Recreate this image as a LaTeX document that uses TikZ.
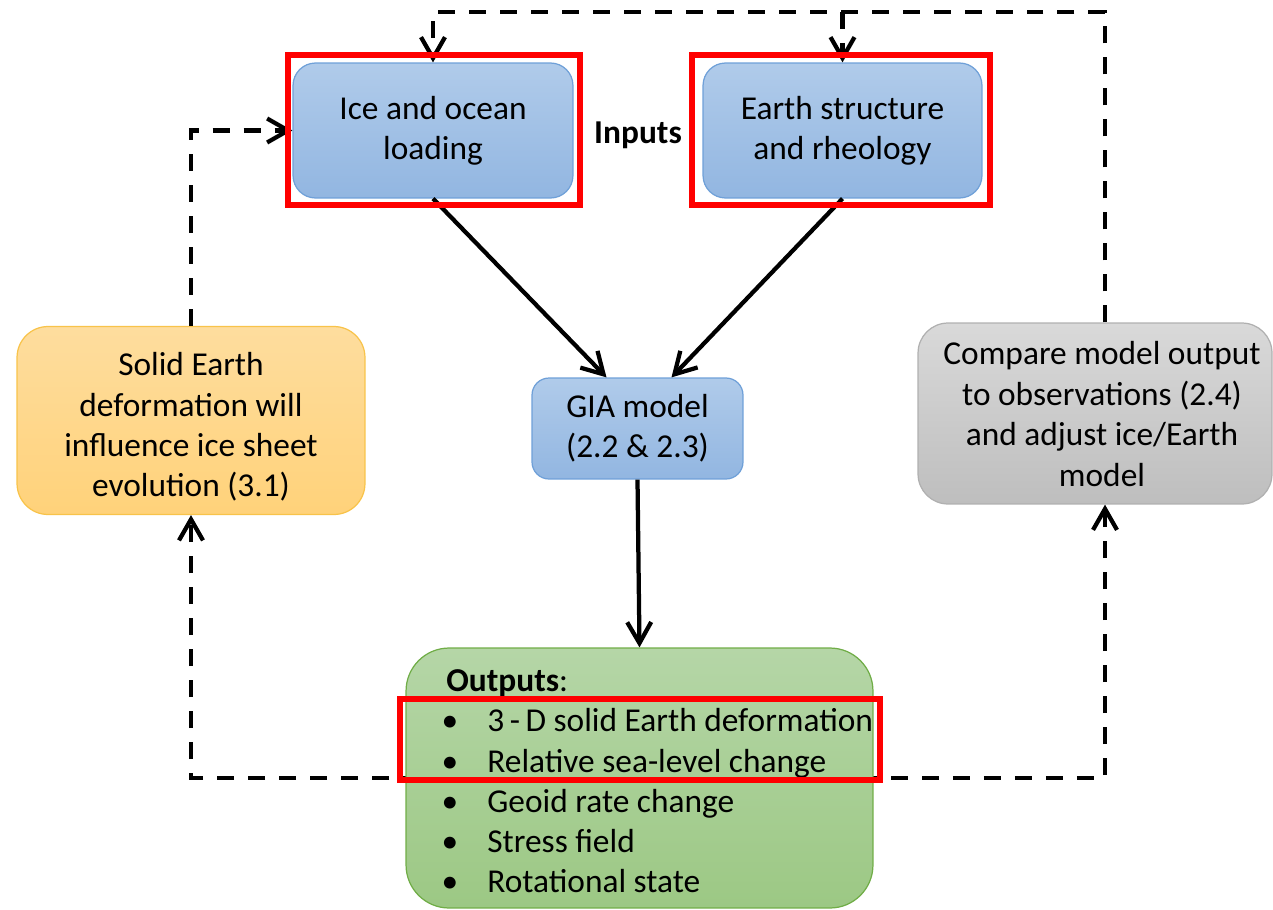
\documentclass[tikz,border=0pt]{standalone}
\usepackage{fontspec}
\setmainfont{Carlito}
\usetikzlibrary{arrows.meta,calc}
\definecolor{bluetop}{HTML}{B0CBEA}
\definecolor{bluebot}{HTML}{92B6E1}
\definecolor{blueline}{HTML}{6FA0D8}
\definecolor{orgtop}{HTML}{FEDD9E}
\definecolor{orgbot}{HTML}{FFD27A}
\definecolor{orgline}{HTML}{F8C34A}
\definecolor{graytop}{HTML}{D9D9D9}
\definecolor{graybot}{HTML}{BEBEBE}
\definecolor{grayline}{HTML}{B0B0B0}
\definecolor{grntop}{HTML}{B5D6A7}
\definecolor{grnbot}{HTML}{9CC884}
\definecolor{grnline}{HTML}{70AD47}
\begin{document}
\begin{tikzpicture}[x=0.02cm,y=-0.02cm,
  txt/.style={font=\fontsize{19}{23}\selectfont, align=center, text=black},
  boxbase/.style={txt, draw, line width=0.7pt, inner sep=0pt},
  bluebox/.style={boxbase, draw=blueline, top color=bluetop, bottom color=bluebot},
  orgbox/.style={boxbase, draw=orgline, top color=orgtop, bottom color=orgbot},
  graybox/.style={boxbase, draw=grayline, top color=graytop, bottom color=graybot},
  grnbox/.style={boxbase, draw=grnline, top color=grntop, bottom color=grnbot},
  tip/.style={-{Straight Barb[length=0.42cm,width=0.48cm]}},
  conn/.style={line width=0.085cm, black, line join=miter},
  dsh/.style={conn, dash pattern=on 0.34cm off 0.28cm},
  redframe/.style={draw=red, line width=0.12cm},
  outtxt/.style={font=\fontsize{19}{23}\selectfont, inner sep=0pt, anchor=base west},
  bul/.style={font=\fontsize{19}{23}\selectfont, inner sep=0pt, anchor=base}
]
\useasboundingbox (0,0) rectangle (1273,909);
\begin{scope}
\clip (0,0) rectangle (1273,909);

% coordinates for the loops
\coordinate (tr) at (1105,12);
\coordinate (tl) at (433,12);
\coordinate (bl) at (190,778);
\coordinate (br) at (1105,778);

% boxes
\node[bluebox, minimum width=5.6cm, minimum height=2.7cm, rounded corners=0.45cm] (ice) at (433,130.5) {Ice and ocean\\loading};
\node[bluebox, minimum width=5.58cm, minimum height=2.7cm, rounded corners=0.45cm] (earth) at (842.5,130.5) {Earth structure\\and rheology};
\node[bluebox, minimum width=4.22cm, minimum height=2.02cm, rounded corners=0.34cm] (gia) at (637.5,428.5) {GIA model\\(2.2 \& 2.3)};
\node[orgbox, minimum width=6.96cm, minimum height=3.76cm, rounded corners=0.62cm] (orange) at (191,420.5) {};
\node[txt] (orangetxt) at (191,427) {Solid Earth\\deformation will\\influence ice sheet\\evolution (3.1)};
\node[graybox, minimum width=7.08cm, minimum height=3.62cm, rounded corners=0.6cm] (gray) at (1095,413.5) {};
\node[txt] (graytxt) at (1102,414) {Compare model output\\to observations (2.4)\\and adjust ice/Earth\\model};

% bottom feedback lines (behind the outputs box)
\draw[dsh,tip] (bl -| 420,0) -| (orange.south);
\draw[dsh,tip] (br -| 860,0) -| ($(gray.south)+(10,0)$);

\node[grnbox, minimum width=9.34cm, minimum height=5.2cm, rounded corners=0.86cm] (out) at (639.5,778) {};

\node[txt, font=\fontsize{19}{23}\selectfont\bfseries] (inputs) at (638,135) {Inputs};

% outputs text
\node[outtxt] (o0) at (446,691) {\textbf{Outputs}:};
\node[bul] (b1) at (450,731) {•};
\node[bul] (b2) at (450,772) {•};
\node[bul] (b3) at (450,812) {•};
\node[bul] (b4) at (450,852) {•};
\node[bul] (b5) at (450,892) {•};
\node[outtxt] (o1) at (487,731) {3\,-\,D solid Earth deformation};
\node[outtxt] (o2) at (487,772) {Relative sea-level change};
\node[outtxt] (o3) at (487,812) {Geoid rate change};
\node[outtxt] (o4) at (487,852) {Stress field};
\node[outtxt] (o5) at (487,892) {Rotational state};

% solid arrows
\draw[conn,tip] (ice.south) -- ($(gia.north)+(-31,0)$);
\draw[conn,tip] (earth.south) -- ($(gia.north)+(34,0)$);
\draw[conn,tip] (gia.south) -- (out.north);

% dashed loops
\draw[dsh,tip] ($(gray.north)+(10,0)$) -- (tr) -- (tl) -- (ice.north);
\draw[dsh,tip] (earth.north |- tr) -- (earth.north);
\draw[dsh,tip] (orange.north) |- (ice.west);

% red highlight frames
\draw[redframe] (288,55) rectangle (580,205);
\draw[redframe] (692,55) rectangle (990,205);
\draw[redframe] (400,699) rectangle (880,780);
\end{scope}
\end{tikzpicture}
\end{document}
